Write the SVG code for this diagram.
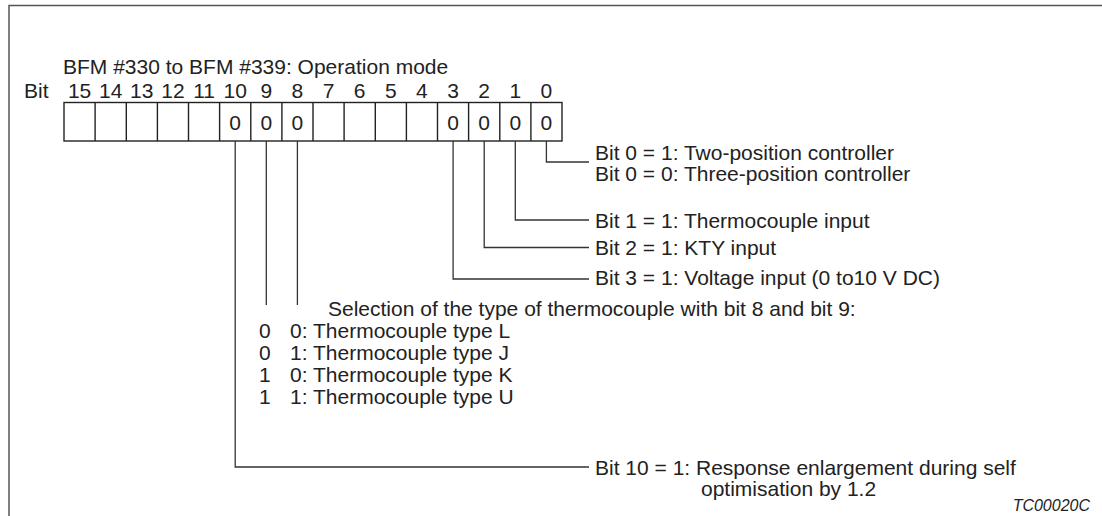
<svg xmlns="http://www.w3.org/2000/svg" width="1102" height="516" viewBox="0 0 1102 516">
<style>
text{font-family:"Liberation Sans",Arial,sans-serif;font-size:21px;fill:#222}
.c{text-anchor:middle}
.cell{fill:#fff;stroke:#222;stroke-width:1.4}
.ln{fill:none;stroke:#333;stroke-width:1.3}
.frame{fill:none;stroke:#555;stroke-width:1.5}
</style>
<rect width="1102" height="516" fill="#fff"/>
<path class="frame" d="M9,516 V5.5 H1102"/>
<g id="title"><text x="63" y="74">BFM #330 to BFM #339: Operation mode</text></g>
<g id="register">
<text x="24" y="98">Bit</text>
<g class="c">
<text x="79.6" y="98">15</text><text x="110.7" y="98">14</text><text x="141.8" y="98">13</text><text x="173" y="98">12</text>
<text x="204.1" y="98">11</text><text x="235.2" y="98">10</text><text x="266.3" y="98">9</text><text x="297.4" y="98">8</text>
<text x="328.6" y="98">7</text><text x="359.7" y="98">6</text><text x="390.8" y="98">5</text><text x="421.9" y="98">4</text>
<text x="453.1" y="98">3</text><text x="484.2" y="98">2</text><text x="515.3" y="98">1</text><text x="546.4" y="98">0</text>
</g>
<rect class="cell" x="64" y="102.5" width="498" height="38.5"/>
<path class="ln" d="M95.1,102.5V141M126.3,102.5V141M157.4,102.5V141M188.5,102.5V141M219.6,102.5V141M250.8,102.5V141M281.9,102.5V141M313,102.5V141M344.1,102.5V141M375.3,102.5V141M406.4,102.5V141M437.5,102.5V141M468.6,102.5V141M499.8,102.5V141M530.9,102.5V141" style="stroke:#222;stroke-width:1.4"/>
<g class="c">
<text x="235.2" y="129.5">0</text><text x="266.3" y="129.5">0</text><text x="297.4" y="129.5">0</text>
<text x="453.1" y="129.5">0</text><text x="484.2" y="129.5">0</text><text x="515.3" y="129.5">0</text><text x="546.4" y="129.5">0</text>
</g>
</g>
<g id="connectors">
<path class="ln" d="M546.4,141V162H589"/>
<path class="ln" d="M515.3,141V220H589"/>
<path class="ln" d="M484.2,141V247.5H589"/>
<path class="ln" d="M453.1,141V279H589"/>
<path class="ln" d="M266.3,141V305"/>
<path class="ln" d="M297.4,141V305"/>
<path class="ln" d="M235.2,141V467H589"/>
</g>
<g id="bit0"><text x="595" y="159.5">Bit 0 = 1: Two-position controller</text><text x="595" y="180.5">Bit 0 = 0: Three-position controller</text></g>
<g id="bit1"><text x="595" y="227.5">Bit 1 = 1: Thermocouple input</text></g>
<g id="bit2"><text x="595" y="255">Bit 2 = 1: KTY input</text></g>
<g id="bit3"><text x="595" y="285">Bit 3 = 1: Voltage input (0 to10 V DC)</text></g>
<g id="bit89">
<text x="328" y="316">Selection of the type of thermocouple with bit 8 and bit 9:</text>
<text x="259" y="338">0</text><text x="290" y="338">0: Thermocouple type L</text>
<text x="259" y="360">0</text><text x="290" y="360">1: Thermocouple type J</text>
<text x="259" y="382">1</text><text x="290" y="382">0: Thermocouple type K</text>
<text x="259" y="404">1</text><text x="290" y="404">1: Thermocouple type U</text>
</g>
<g id="bit10"><text x="595" y="474.5">Bit 10 = 1: Response enlargement during self</text><text x="701" y="495.5">optimisation by 1.2</text></g>
<g id="code"><text x="1090" y="510.5" style="font-size:16px;font-style:italic;text-anchor:end">TC00020C</text></g>
</svg>
